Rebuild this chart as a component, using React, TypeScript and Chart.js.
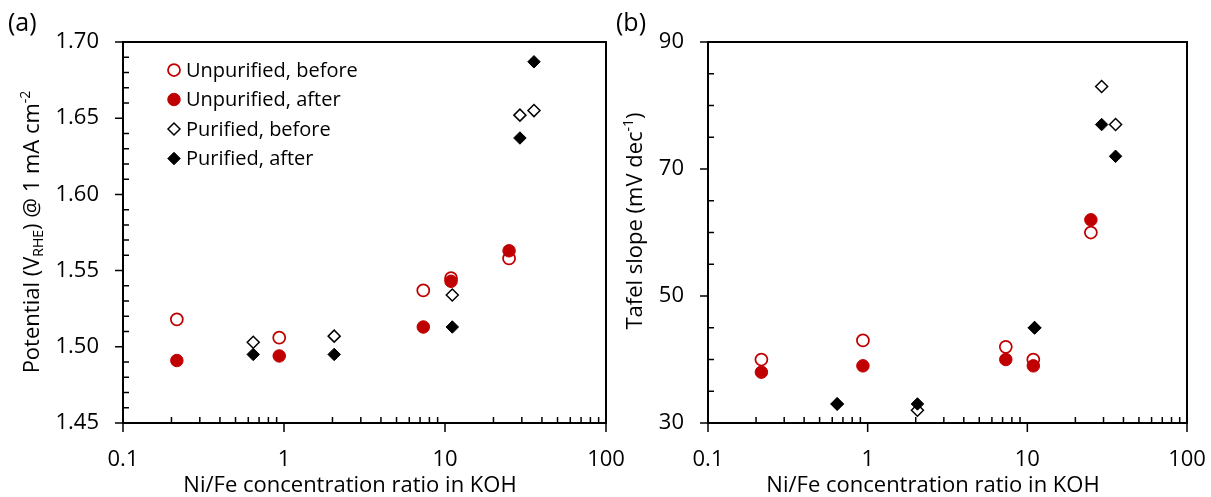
import React, { useEffect, useRef } from 'react';
import { Chart, registerables } from 'chart.js';
Chart.register(...registerables);

const FONT = "'Open Sans', sans-serif";
const RED = '#C00000';

// ---------- data ----------
const xUnpurified = [0.216, 0.934, 7.33, 10.9, 25.0];
const xPurified = [0.644, 2.05, 11.1, 29.2, 35.7];

const potentialUnpurBefore = [1.518, 1.506, 1.537, 1.545, 1.558];
const potentialUnpurAfter = [1.491, 1.494, 1.513, 1.543, 1.563];
const potentialPurBefore = [1.503, 1.507, 1.534, 1.652, 1.655];
const potentialPurAfter = [1.495, 1.495, 1.513, 1.637, 1.687];

const tafelUnpurBefore = [40, 43, 42, 40, 60];
const tafelUnpurAfter = [38, 39, 40, 39, 62];
const tafelPurBefore = [33, 32, 45, 83, 77];
const tafelPurAfter = [33, 33, 45, 77, 72];

const seriesLabels = ['Unpurified, before', 'Unpurified, after', 'Purified, before', 'Purified, after'];

const xMajorTicks = [0.1, 1, 10, 100];
const xMinorTicks = [0.2, 0.3, 0.4, 0.5, 0.6, 0.7, 0.8, 0.9, 2, 3, 4, 5, 6, 7, 8, 9, 20, 30, 40, 50, 60, 70, 80, 90];
const potentialTicks = [1.45, 1.5, 1.55, 1.6, 1.65, 1.7];
const potentialMinorTicks = [1.46, 1.47, 1.48, 1.49, 1.51, 1.52, 1.53, 1.54, 1.56, 1.57, 1.58, 1.59, 1.61, 1.62, 1.63, 1.64, 1.66, 1.67, 1.68, 1.69];
const tafelTicks = [30, 50, 70, 90];
const tafelMinorTicks = [35, 40, 45, 55, 60, 65, 75, 80, 85];

// ---------- marker styles ----------
type MarkerStyle = { shape: 'circle' | 'rectRot'; r: number; fill: string; stroke: string; lw: number };
const markerStyles: MarkerStyle[] = [
  { shape: 'circle', r: 6, fill: '#ffffff', stroke: RED, lw: 1.75 },
  { shape: 'circle', r: 6.25, fill: RED, stroke: RED, lw: 1 },
  { shape: 'rectRot', r: 6, fill: '#ffffff', stroke: '#000000', lw: 1.5 },
  { shape: 'rectRot', r: 6.25, fill: '#000000', stroke: '#000000', lw: 1 },
];

function drawMarker(ctx: CanvasRenderingContext2D, m: MarkerStyle, x: number, y: number) {
  ctx.save();
  ctx.beginPath();
  if (m.shape === 'circle') {
    ctx.arc(x, y, m.r, 0, Math.PI * 2);
  } else {
    ctx.moveTo(x - m.r, y);
    ctx.lineTo(x, y - m.r);
    ctx.lineTo(x + m.r, y);
    ctx.lineTo(x, y + m.r);
    ctx.closePath();
  }
  ctx.fillStyle = m.fill;
  ctx.fill();
  ctx.lineWidth = m.lw;
  ctx.strokeStyle = m.stroke;
  ctx.stroke();
  ctx.restore();
}

type Part = { t: string; size: number; shift: number };

function drawRichText(ctx: CanvasRenderingContext2D, parts: Part[], cx: number, cy: number, rotate: boolean) {
  ctx.save();
  ctx.translate(cx, cy);
  if (rotate) ctx.rotate(-Math.PI / 2);
  let total = 0;
  const widths = parts.map((p) => {
    ctx.font = `${p.size}px ${FONT}`;
    const w = ctx.measureText(p.t).width;
    total += w;
    return w;
  });
  let x = -total / 2;
  ctx.textBaseline = 'alphabetic';
  ctx.textAlign = 'left';
  ctx.fillStyle = '#000';
  parts.forEach((p, i) => {
    ctx.font = `${p.size}px ${FONT}`;
    ctx.fillText(p.t, x, 8 + p.shift);
    x += widths[i];
  });
  ctx.restore();
}

type Spec = {
  canvasWidth: number;
  plotLeft: number;
  plotRight: number;
  yMin: number;
  yMax: number;
  yTicks: number[];
  yMinor: number[];
  yFormat: (v: number) => string;
  series: number[][];
  yTitle: Part[];
  yTitleX: number;
  yTitleY: number;
  xTitleX: number;
  panelLabel: string;
  panelLabelX: number;
  legend: boolean;
};

const PLOT_TOP = 42;
const PLOT_BOTTOM = 423;
const CANVAS_H = 497;
const TICK_FONT = { family: FONT, size: 22 };
const TITLE_SIZE = 22;

function buildConfig(spec: Spec): any {
  const xsFor = [xUnpurified, xUnpurified, xPurified, xPurified];
  const datasets = spec.series.map((ys, i) => {
    const m = markerStyles[i];
    return {
      label: seriesLabels[i],
      order: 3 - i,
      data: ys.map((y, j) => ({ x: xsFor[i][j], y })),
      showLine: false,
      pointStyle: m.shape,
      pointRadius: m.r,
      pointHoverRadius: m.r,
      pointBackgroundColor: m.fill,
      pointBorderColor: m.stroke,
      pointBorderWidth: m.lw,
      pointHoverBorderWidth: m.lw,
    };
  });

  const decor = {
    id: 'decor',
    beforeDatasetsDraw(chart: any) {
      const { ctx, chartArea: a } = chart;
      const xs = chart.scales.x;
      const ys = chart.scales.y;
      ctx.save();
      ctx.strokeStyle = '#000';
      ctx.lineWidth = 1.5;
      ctx.beginPath();
      for (const v of spec.yTicks) {
        const p = ys.getPixelForValue(v);
        ctx.moveTo(a.left - 8, p);
        ctx.lineTo(a.left, p);
      }
      for (const v of spec.yMinor) {
        const p = ys.getPixelForValue(v);
        ctx.moveTo(a.left, p);
        ctx.lineTo(a.left + 6, p);
      }
      for (const v of xMajorTicks) {
        const p = xs.getPixelForValue(v);
        ctx.moveTo(p, a.bottom);
        ctx.lineTo(p, a.bottom + 9);
      }
      for (const v of xMinorTicks) {
        const p = xs.getPixelForValue(v);
        ctx.moveTo(p, a.bottom);
        ctx.lineTo(p, a.bottom - 6);
      }
      ctx.stroke();
      ctx.lineWidth = 2;
      ctx.strokeRect(a.left, a.top, a.right - a.left, a.bottom - a.top);
      ctx.restore();

      // axis titles
      drawRichText(ctx, [{ t: 'Ni/Fe concentration ratio in KOH', size: TITLE_SIZE, shift: 0 }], spec.xTitleX, 484, false);
      drawRichText(ctx, spec.yTitle, spec.yTitleX, spec.yTitleY, true);

      // panel label
      ctx.save();
      ctx.font = `25px ${FONT}`;
      ctx.fillStyle = '#000';
      ctx.textBaseline = 'middle';
      ctx.textAlign = 'left';
      ctx.fillText(spec.panelLabel, spec.panelLabelX, 24);
      ctx.restore();

      // legend
      if (spec.legend) {
        const rows = [70, 99.5, 129, 158.5];
        ctx.save();
        ctx.font = `20px ${FONT}`;
        ctx.fillStyle = '#000';
        ctx.textBaseline = 'middle';
        ctx.textAlign = 'left';
        seriesLabels.forEach((lab, i) => {
          drawMarker(ctx, markerStyles[i], 174, rows[i]);
          ctx.fillText(lab, 186, rows[i] + 1);
        });
        ctx.restore();
      }
    },
  };

  return {
    type: 'scatter',
    data: { datasets },
    options: {
      animation: false,
      responsive: false,
      maintainAspectRatio: false,
      events: [],
      layout: { padding: { left: 0, right: spec.canvasWidth - spec.plotRight, top: PLOT_TOP, bottom: 0 } },
      plugins: { legend: { display: false }, tooltip: { enabled: false } },
      scales: {
        x: {
          type: 'logarithmic',
          position: 'bottom',
          min: 0.1,
          max: 100,
          grid: { display: false, drawTicks: false },
          border: { display: false },
          afterBuildTicks: (s: any) => {
            s.ticks = xMajorTicks.map((v) => ({ value: v }));
          },
          afterFit: (s: any) => {
            s.height = CANVAS_H - PLOT_BOTTOM;
          },
          ticks: {
            autoSkip: false,
            maxRotation: 0,
            minRotation: 0,
            padding: 24,
            color: '#000',
            font: TICK_FONT,
            callback: (v: any) => String(v),
          },
        },
        y: {
          type: 'linear',
          position: 'left',
          min: spec.yMin,
          max: spec.yMax,
          grid: { display: false, drawTicks: false },
          border: { display: false },
          afterBuildTicks: (s: any) => {
            s.ticks = spec.yTicks.map((v) => ({ value: v }));
          },
          afterFit: (s: any) => {
            s.width = spec.plotLeft;
          },
          ticks: {
            padding: 24,
            color: '#000',
            font: TICK_FONT,
            callback: (v: any) => spec.yFormat(Number(v)),
          },
        },
      },
    },
    plugins: [decor],
  };
}

const specA: Spec = {
  canvasWidth: 654,
  plotLeft: 123,
  plotRight: 606,
  yMin: 1.45,
  yMax: 1.7,
  yTicks: potentialTicks,
  yMinor: potentialMinorTicks,
  yFormat: (v) => v.toFixed(2),
  series: [potentialUnpurBefore, potentialUnpurAfter, potentialPurBefore, potentialPurAfter],
  yTitle: [
    { t: 'Potential (V', size: TITLE_SIZE, shift: 0 },
    { t: 'RHE', size: 14, shift: 4 },
    { t: ') @ 1 mA cm', size: TITLE_SIZE, shift: 0 },
    { t: '-2', size: 14, shift: -9 },
  ],
  yTitleX: 31,
  yTitleY: 232,
  xTitleX: 350,
  panelLabel: '(a)',
  panelLabelX: 8,
  legend: true,
};

const specB: Spec = {
  canvasWidth: 635,
  plotLeft: 108,
  plotRight: 587,
  yMin: 30,
  yMax: 90,
  yTicks: tafelTicks,
  yMinor: tafelMinorTicks,
  yFormat: (v) => String(Math.round(v)),
  series: [tafelUnpurBefore, tafelUnpurAfter, tafelPurBefore, tafelPurAfter],
  yTitle: [
    { t: 'Tafel slope (mV dec', size: TITLE_SIZE, shift: 0 },
    { t: '-1', size: 14, shift: -9 },
    { t: ')', size: TITLE_SIZE, shift: 0 },
  ],
  yTitleX: 34,
  yTitleY: 221,
  xTitleX: 333,
  panelLabel: '(b)',
  panelLabelX: 16,
  legend: false,
};

export default function App() {
  const refA = useRef<HTMLCanvasElement>(null);
  const refB = useRef<HTMLCanvasElement>(null);
  useEffect(() => {
    const a = new Chart(refA.current as HTMLCanvasElement, buildConfig(specA));
    const b = new Chart(refB.current as HTMLCanvasElement, buildConfig(specB));
    return () => {
      a.destroy();
      b.destroy();
    };
  }, []);
  return (
    <div style={{ position: 'absolute', left: 0, top: 0, width: 1211, height: 497, background: '#fff', overflow: 'hidden' }}>
      <canvas ref={refA} width={654} height={497} style={{ position: 'absolute', left: 0, top: 0, width: 654, height: 497 }} />
      <canvas ref={refB} width={635} height={497} style={{ position: 'absolute', left: 600, top: 0, width: 635, height: 497 }} />
    </div>
  );
}
